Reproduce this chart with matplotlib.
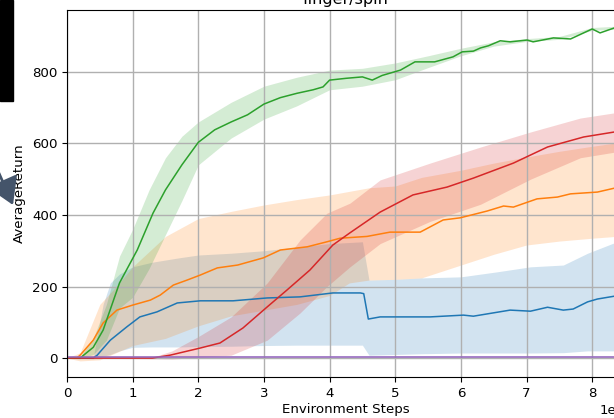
# -*- coding: utf-8 -*-
"""
Learning curves for finger/spin: average return vs. environment steps,
mean line with a shaded spread for each run group.
"""

import matplotlib
matplotlib.use('Agg')  # Use non-interactive backend
import matplotlib.pyplot as plt
from matplotlib.patches import Rectangle, FancyArrowPatch

STEP_SCALE = 1e6

# --- blue (C0) ---
blue_x = [0, 0.4, 0.46, 0.66, 0.91, 1.11, 1.37, 1.68, 2.03, 2.53, 3.05, 3.55, 4.05, 4.47,
          4.52, 4.59, 4.77, 4.88, 5.53, 6.04, 6.19, 6.75, 7.06, 7.32, 7.56, 7.71, 7.93, 8.08,
          8.34, 8.5]
blue_y = [0, 0, 8, 50, 87, 115, 129, 154, 160, 160, 168, 171, 182, 182,
          180, 109, 115, 115, 115, 120, 117, 134, 131, 142, 134, 137, 157, 165,
          173, 175]
blue_band_x = [0, 0.4, 0.55, 0.66, 0.8, 1.0, 1.3, 1.7, 2.0, 2.5, 3.0, 3.5, 4.0, 4.5, 4.6,
               5.0, 5.4, 6.0, 6.55, 7.06, 7.56, 7.93, 8.32, 8.5]
blue_hi = [0, 2, 150, 210, 235, 255, 268, 280, 288, 293, 300, 310, 320, 325, 218,
           220, 224, 227, 241, 255, 260, 293, 321, 325]
blue_lo = [0, -2, 5, 10, 20, 30, 31, 31, 32, 33, 35, 36, 36, 36, 8,
           10, 12, 14, 14, 14, 15, 20, 20, 20]

# --- orange (C1) ---
orange_x = [0, 0.15, 0.2, 0.4, 0.55, 0.76, 1.0, 1.27, 1.42, 1.62, 1.83, 2.03, 2.29, 2.6,
            2.99, 3.25, 3.66, 3.96, 4.16, 4.57, 4.92, 5.38, 5.73, 5.99, 6.4, 6.65, 6.8,
            7.16, 7.47, 7.67, 8.08, 8.34, 8.5]
orange_y = [0, 0, 8, 50, 98, 134, 148, 162, 176, 204, 218, 232, 252, 260,
            280, 302, 311, 325, 335, 340, 352, 352, 386, 392, 411, 425, 422,
            445, 450, 459, 464, 475, 478]
orange_band_x = [0, 0.2, 0.5, 0.75, 1.0, 1.5, 2.0, 2.5, 3.0, 3.5, 4.0, 4.3, 4.6, 5.0, 5.4,
                 6.0, 6.5, 7.0, 7.5, 8.0, 8.5]
orange_hi = [0, 15, 150, 200, 255, 340, 390, 410, 428, 443, 456, 466, 476, 481, 505,
             525, 545, 562, 578, 592, 605]
orange_lo = [0, -8, -5, 15, 35, 55, 90, 118, 134, 150, 175, 210, 218, 220, 224,
             260, 290, 316, 327, 335, 342]

# --- green (C2) ---
green_x = [0, 0.2, 0.4, 0.55, 0.8, 1.07, 1.31, 1.5, 1.75, 2.0, 2.25, 2.5, 2.75, 3.0, 3.25,
           3.5, 3.75, 3.9, 4.0, 4.25, 4.5, 4.65, 4.8, 5.08, 5.3, 5.6, 5.88, 6.02, 6.19, 6.3,
           6.42, 6.6, 6.75, 7.01, 7.1, 7.41, 7.67, 8.0, 8.12, 8.34, 8.5]
green_y = [0, 0, 30, 78, 210, 302, 405, 470, 540, 603, 638, 660, 680, 710, 728,
           740, 750, 758, 777, 782, 786, 777, 790, 805, 828, 828, 842, 856, 858, 867,
           873, 887, 884, 889, 884, 895, 892, 920, 909, 923, 925]
green_band_x = [0, 0.2, 0.4, 0.6, 0.8, 1.0, 1.25, 1.5, 1.75, 2.0, 2.5, 3.0, 3.5, 4.0, 4.5,
                5.0, 5.5, 6.0, 6.5, 7.0, 7.5, 8.0, 8.5]
green_hi = [0, 3, 55, 150, 285, 360, 470, 560, 620, 660, 715, 760, 785, 805, 810,
            825, 845, 866, 884, 893, 899, 924, 929]
green_lo = [0, -2, 10, 50, 140, 170, 250, 345, 440, 540, 615, 668, 705, 750, 760,
            778, 812, 845, 872, 885, 891, 916, 921]

# --- red (C3) ---
red_x = [0, 1.3, 1.57, 2.03, 2.33, 2.68, 3.05, 3.35, 3.7, 4.05, 4.31, 4.77, 5.27, 5.79,
         6.19, 6.8, 7.32, 7.87, 8.34, 8.5]
red_y = [0, 0, 8, 28, 42, 84, 143, 190, 246, 316, 350, 408, 456, 478,
         503, 545, 590, 618, 632, 638]
red_band_x = [0, 1.3, 1.6, 2.0, 2.5, 3.05, 3.55, 3.96, 4.31, 4.77, 5.53, 6.3, 7.06, 7.82,
              8.32, 8.5]
red_hi = [0, 2, 20, 60, 115, 210, 330, 405, 433, 498, 545, 590, 632, 671, 685, 690]
red_lo = [0, -2, -3, 2, 8, 50, 126, 200, 255, 320, 382, 430, 500, 560, 575, 580]

# --- purple (C4) ---
purple_x = [0, 2, 4, 6, 8, 8.5]
purple_y = [4, 4, 4, 4, 4, 4]
purple_hi = [6, 6, 6, 6, 6, 6]
purple_lo = [-3, -3, -3, -3, -3, -3]

SERIES = [
    ('C0', blue_x, blue_y, blue_band_x, blue_lo, blue_hi),
    ('C1', orange_x, orange_y, orange_band_x, orange_lo, orange_hi),
    ('C2', green_x, green_y, green_band_x, green_lo, green_hi),
    ('C3', red_x, red_y, red_band_x, red_lo, red_hi),
    ('C4', purple_x, purple_y, purple_x, purple_lo, purple_hi),
]


def scaled(xs):
    return [x * STEP_SCALE for x in xs]


def plot_curves(output_path='out.png'):
    plt.rcParams['font.size'] = 9.6
    fig = plt.figure(figsize=(6.14, 4.18), dpi=100)
    ax = fig.add_axes([67 / 614, 41 / 418, 558 / 614, 367 / 418])

    for color, x, y, bx, lo, hi in SERIES:
        ax.fill_between(scaled(bx), lo, hi, color=color, alpha=0.2, linewidth=0)
        ax.plot(scaled(x), y, color=color, linewidth=1.1)

    ax.set_xlim(0, 8.5 * STEP_SCALE)
    ax.set_ylim(-53, 973)
    ax.set_yticks([0, 200, 400, 600, 800])
    ax.grid(True, color='#b0b0b0', linewidth=1.0)
    ax.set_xlabel('Environment Steps', labelpad=2)
    ax.set_ylabel('AverageReturn')
    ax.set_title('finger/spin', pad=4)

    # leftovers from the neighbouring panel
    fig.add_artist(Rectangle((0, 1 - 101 / 418), 13 / 614, 101 / 418,
                             transform=fig.transFigure, color='black'))
    fig.add_artist(FancyArrowPatch((-6 / 614, 1 - 162 / 418), (13 / 614, 1 - 205 / 418),
                                   transform=fig.transFigure, color='#44546a',
                                   arrowstyle='-|>,head_length=0.9,head_width=0.55',
                                   mutation_scale=18, linewidth=2, shrinkA=0, shrinkB=0))

    fig.savefig(output_path, dpi=100)
    plt.close(fig)


if __name__ == '__main__':
    plot_curves()
